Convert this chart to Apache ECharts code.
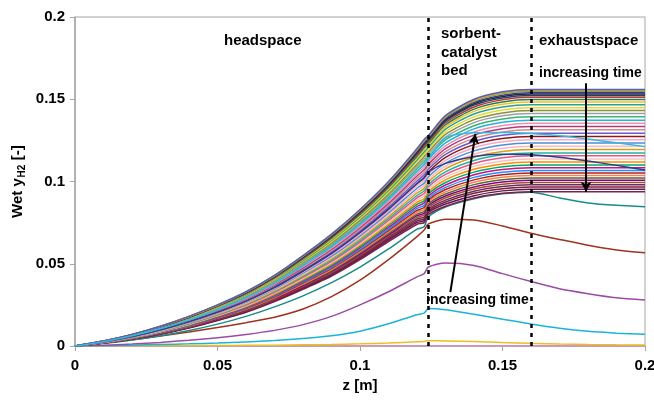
<!DOCTYPE html>
<html>
<head>
<meta charset="utf-8">
<script src="https://cdn.jsdelivr.net/npm/echarts@6/dist/echarts.min.js"></script>
<style>html,body{margin:0;padding:0;background:#fff}#c{width:654px;height:402px}</style>
</head>
<body>
<div id="c"></div>
<script>
// ---- data ----
const xTicks = [0, 0.05, 0.1, 0.15, 0.2];
const yTicks = [0, 0.05, 0.1, 0.15, 0.2];
const bedStart = 0.124;
const bedEnd = 0.16;

// z grid of the dense band of profiles
const zBand = [0,0.01,0.02,0.03,0.04,0.05,0.06,0.07,0.08,0.09,0.1,0.11,0.12,0.1225,0.124,0.13,0.14,0.15,0.16,0.2];
// z grid of the separately visible profiles
const zFine = [0,0.01,0.02,0.03,0.04,0.05,0.06,0.07,0.08,0.09,0.1,0.11,0.12,0.1225,0.124,0.13,0.14,0.15,0.16,0.17,0.18,0.19,0.2];

// band profiles, top to bottom
const b01 = [0,.0030,.0070,.0120,.0180,.0250,.0330,.0430,.0550,.0680,.0830,.1000,.1200,.1255,.1280,.1400,.1500,.1545,.1560,.1560];
const b02 = [0,.0030,.0070,.0120,.0179,.0249,.0329,.0428,.0548,.0678,.0827,.0996,.1195,.1250,.1275,.1395,.1494,.1539,.1554,.1554];
const b03 = [0,.0030,.0069,.0119,.0179,.0248,.0328,.0427,.0546,.0675,.0824,.0993,.1191,.1245,.1270,.1389,.1488,.1533,.1548,.1548];
const b04 = [0,.0030,.0069,.0119,.0178,.0247,.0326,.0425,.0543,.0672,.0820,.0988,.1185,.1239,.1265,.1382,.1481,.1525,.1540,.1540];
const b05 = [0,.0030,.0069,.0118,.0177,.0246,.0324,.0423,.0541,.0669,.0816,.0984,.1179,.1232,.1258,.1375,.1473,.1517,.1532,.1532];
const b06 = [0,.0029,.0068,.0117,.0176,.0244,.0323,.0420,.0538,.0665,.0812,.0978,.1172,.1225,.1251,.1367,.1464,.1508,.1523,.1523];
const b07 = [0,.0029,.0068,.0116,.0175,.0243,.0320,.0418,.0534,.0660,.0806,.0972,.1164,.1216,.1243,.1357,.1453,.1497,.1512,.1512];
const b08 = [0,.0029,.0067,.0115,.0173,.0241,.0318,.0414,.0530,.0655,.0800,.0964,.1154,.1205,.1232,.1345,.1440,.1483,.1498,.1498];
const b09 = [0,.0029,.0067,.0114,.0171,.0238,.0315,.0410,.0525,.0648,.0792,.0955,.1143,.1192,.1221,.1332,.1426,.1469,.1483,.1483];
const b10 = [0,.0028,.0066,.0113,.0170,.0236,.0311,.0406,.0519,.0642,.0784,.0945,.1131,.1179,.1208,.1318,.1410,.1453,.1467,.1467];
const b11 = [0,.0028,.0065,.0112,.0168,.0233,.0308,.0402,.0514,.0635,.0776,.0935,.1118,.1165,.1195,.1302,.1393,.1435,.1449,.1449];
const b12 = [0,.0028,.0064,.0110,.0166,.0230,.0304,.0397,.0508,.0627,.0767,.0924,.1105,.1151,.1181,.1286,.1376,.1417,.1431,.1431];
const b13 = [0,.0027,.0063,.0109,.0163,.0228,.0300,.0392,.0501,.0620,.0758,.0914,.1091,.1135,.1166,.1270,.1358,.1399,.1413,.1413];
const b14 = [0,.0027,.0063,.0107,.0161,.0225,.0297,.0387,.0495,.0612,.0748,.0902,.1077,.1120,.1151,.1253,.1339,.1380,.1393,.1393];
const b15 = [0,.0026,.0062,.0106,.0159,.0222,.0293,.0382,.0489,.0604,.0739,.0891,.1062,.1104,.1136,.1235,.1320,.1360,.1373,.1373];
const b16 = [0,.0026,.0061,.0104,.0157,.0219,.0289,.0377,.0482,.0595,.0729,.0879,.1047,.1087,.1121,.1217,.1301,.1340,.1354,.1354];
const b17 = [0,.0026,.0060,.0103,.0155,.0215,.0285,.0372,.0475,.0587,.0719,.0867,.1033,.1071,.1105,.1200,.1282,.1320,.1334,.1334];
const b18 = [0,.0025,.0059,.0101,.0152,.0212,.0281,.0367,.0469,.0579,.0709,.0856,.1018,.1055,.1090,.1182,.1262,.1301,.1314,.1314];
const b19 = [0,.0025,.0058,.0100,.0150,.0209,.0277,.0362,.0462,.0571,.0700,.0844,.1003,.1039,.1075,.1165,.1243,.1281,.1294,.1294];
const b20 = [0,.0025,.0057,.0098,.0148,.0206,.0273,.0356,.0456,.0563,.0690,.0832,.0988,.1023,.1059,.1147,.1224,.1261,.1274,.1274];
const b21 = [0,.0024,.0056,.0096,.0146,.0203,.0269,.0351,.0449,.0555,.0680,.0820,.0974,.1007,.1044,.1129,.1205,.1241,.1254,.1254];
const b22 = [0,.0024,.0055,.0095,.0143,.0200,.0265,.0346,.0443,.0546,.0670,.0809,.0959,.0990,.1029,.1112,.1186,.1222,.1234,.1234];
const b23 = [0,.0023,.0054,.0093,.0141,.0197,.0261,.0341,.0436,.0538,.0660,.0797,.0944,.0974,.1013,.1094,.1166,.1202,.1214,.1214];
const b24 = [0,.0023,.0054,.0092,.0139,.0194,.0257,.0336,.0430,.0530,.0651,.0785,.0930,.0958,.0998,.1077,.1147,.1182,.1194,.1194];
const b25 = [0,.0023,.0053,.0090,.0137,.0191,.0253,.0331,.0423,.0522,.0641,.0774,.0915,.0942,.0982,.1059,.1128,.1163,.1174,.1174];
const b26 = [0,.0022,.0052,.0089,.0135,.0188,.0249,.0326,.0417,.0514,.0632,.0763,.0901,.0927,.0968,.1043,.1110,.1144,.1156,.1156];
const b27 = [0,.0022,.0051,.0087,.0132,.0185,.0245,.0321,.0411,.0507,.0623,.0752,.0887,.0912,.0954,.1026,.1092,.1125,.1137,.1137];
const b28 = [0,.0022,.0050,.0086,.0130,.0183,.0241,.0316,.0405,.0499,.0614,.0741,.0873,.0897,.0939,.1010,.1074,.1107,.1118,.1118];
const b29 = [0,.0021,.0049,.0085,.0128,.0180,.0238,.0312,.0399,.0492,.0605,.0731,.0861,.0882,.0926,.0994,.1057,.1090,.1101,.1101];
const b30 = [0,.0021,.0049,.0083,.0127,.0177,.0234,.0308,.0393,.0485,.0597,.0721,.0848,.0869,.0913,.0979,.1041,.1073,.1084,.1084];
const b31 = [0,.0021,.0048,.0082,.0125,.0175,.0231,.0303,.0388,.0478,.0588,.0711,.0836,.0855,.0900,.0964,.1025,.1056,.1067,.1067];
const b32 = [0,.0020,.0047,.0081,.0123,.0172,.0228,.0299,.0383,.0472,.0581,.0702,.0824,.0842,.0888,.0951,.1010,.1041,.1052,.1052];
const b33 = [0,.0020,.0046,.0080,.0121,.0170,.0225,.0295,.0377,.0465,.0573,.0693,.0813,.0830,.0876,.0937,.0995,.1026,.1036,.1036];
const b34 = [0,.0020,.0046,.0079,.0120,.0168,.0222,.0292,.0373,.0459,.0566,.0684,.0802,.0818,.0865,.0924,.0981,.1011,.1022,.1022];
const b35 = [0,.0019,.0045,.0077,.0118,.0166,.0219,.0288,.0368,.0454,.0559,.0676,.0792,.0807,.0854,.0912,.0967,.0997,.1008,.1008];
const b36 = [0,.0019,.0045,.0076,.0116,.0164,.0216,.0284,.0364,.0448,.0553,.0668,.0781,.0796,.0843,.0900,.0954,.0984,.0994,.0994];
const b37 = [0,.0019,.0044,.0075,.0115,.0162,.0214,.0281,.0359,.0442,.0546,.0660,.0771,.0784,.0833,.0887,.0941,.0970,.0980,.0980];
const b38 = [0,.0019,.0043,.0074,.0113,.0159,.0211,.0277,.0354,.0437,.0539,.0652,.0761,.0773,.0822,.0875,.0928,.0956,.0967,.0967];
const b39 = [0,.0018,.0043,.0073,.0112,.0157,.0208,.0274,.0350,.0431,.0532,.0644,.0751,.0762,.0812,.0863,.0914,.0943,.0953,.0953];
const b40 = [0,.0018,.0042,.0072,.0110,.0155,.0205,.0270,.0345,.0425,.0525,.0635,.0740,.0750,.0800,.0850,.0900,.0928,.0938,.0938];

// separately visible profiles (on zFine)
const cyanCross = [0,.0026,.0062,.0106,.0159,.0222,.0293,.0382,.0489,.0604,.0739,.0891,.1062,.1104,.1136,.1265,.1296,.1298,.1292,.1278,.1258,.1235,.1212];
const navyCross = [0,.0025,.0057,.0098,.0148,.0206,.0273,.0356,.0456,.0563,.0690,.0832,.0988,.1023,.1059,.1110,.1152,.1165,.1162,.1148,.1125,.1098,.1070];
const tealLow   = [0,.0015,.0036,.0062,.0094,.0133,.0180,.0238,.0305,.0385,.0480,.0590,.0710,.0725,.0785,.0845,.0895,.0925,.0935,.0900,.0870,.0855,.0847];
const brownLow  = [0,.0018,.0038,.0060,.0085,.0112,.0142,.0175,.0225,.0300,.0400,.0525,.0665,.0705,.0742,.0770,.0766,.0730,.0686,.0648,.0612,.0584,.0567];
const purpleLow = [0,.0005,.0012,.0022,.0035,.0050,.0070,.0095,.0130,.0180,.0250,.0330,.0420,.0440,.0480,.0505,.0490,.0440,.0392,.0348,.0318,.0293,.0280];
const cyanLow   = [0,.0002,.0005,.0009,.0013,.0018,.0025,.0033,.0045,.0062,.0090,.0135,.0190,.0200,.0228,.0220,.0193,.0163,.0134,.0108,.0089,.0078,.0071];
const yellowLow = [0,.0001,.0001,.0002,.0002,.0003,.0004,.0005,.0007,.0009,.0013,.0018,.0026,.0028,.0032,.0031,.0027,.0021,.0016,.0012,.0009,.0007,.0006];
const pinkZero  = [0,0,0,0,0,0,0,0,0,0,0,0,0,0,0,0,0,0,0,0,0,0,0];

// arrows (data coordinates)
const arrowDown = [[0.1793, 0.1598], [0.1793, 0.0937]];
const arrowUp   = [[0.1317, 0.0328], [0.1405, 0.1290]];

// ---- styles ----
const bandColors = ['#5560b0','#e89a3c','#7aa84a','#3a3a8a','#2b2b2b','#1f3f7f','#c0392b','#2e7d4f','#f0c419','#2aa198',
  '#e0dc30','#8a8f3a','#9aa0a6','#3cb371','#1fb5d8','#f28db2','#b03a7a','#d48a8a','#6a5acd','#8b1a1a',
  '#f7a8c8','#4a90d9','#ffb6c1','#d4a017','#20b2aa','#e75480','#f4c2c2','#ff8c00','#00a86b','#c71585',
  '#1e90ff','#b22222','#ff7f50','#556b2f','#8b008b','#a0522d','#6b2d5c','#7b1e3a','#5e1a4f','#80204a'];
const bandRows = [b01,b02,b03,b04,b05,b06,b07,b08,b09,b10,b11,b12,b13,b14,b15,b16,b17,b18,b19,b20,
  b21,b22,b23,b24,b25,b26,b27,b28,b29,b30,b31,b32,b33,b34,b35,b36,b37,b38,b39,b40];

const FONT = 'Arial, "Liberation Sans", sans-serif';
function pairs(zs, ys) { return zs.map((z, i) => [z, ys[i]]); }
function lineSeries(zs, ys, color, z) {
  return { type: 'line', data: pairs(zs, ys), symbol: 'none', smooth: 0.25, silent: true,
    lineStyle: { color: color, width: 1.5 }, z: z || 2 };
}

const series = [];
series.push(Object.assign(lineSeries(zFine, pinkZero, '#d98cc0', 2), {
  markLine: {
    silent: true, symbol: 'none', precision: 6, label: { show: false }, animation: false,
    data: [
      { xAxis: bedStart, lineStyle: { color: '#000', width: 2.5, type: [4, 5] } },
      { xAxis: bedEnd, lineStyle: { color: '#000', width: 2.5, type: [4, 5] } },
      [{ coord: arrowDown[0], symbol: 'none', lineStyle: { color: '#000', width: 2, type: 'solid' } },
       { coord: arrowDown[1], symbol: 'arrow', symbolSize: [8, 10] }],
      [{ coord: arrowUp[0], symbol: 'none', lineStyle: { color: '#000', width: 2, type: 'solid' } },
       { coord: arrowUp[1], symbol: 'arrow', symbolSize: [8, 10] }]
    ]
  }
}));
series.push(lineSeries(zFine, yellowLow, '#e8c020'));
series.push(lineSeries(zFine, cyanLow, '#1cb4d6'));
series.push(lineSeries(zFine, purpleLow, '#9c4aa6'));
series.push(lineSeries(zFine, brownLow, '#a0321e'));
series.push(lineSeries(zFine, tealLow, '#1a8a8a'));
for (let i = bandRows.length - 1; i >= 0; i--) {
  series.push(lineSeries(zBand, bandRows[i], bandColors[i]));
}
series.push(lineSeries(zFine, navyCross, '#2b3f8f', 3));
series.push(lineSeries(zFine, cyanCross, '#36b9e0', 3));

const labelStyle = { color: '#000', fontFamily: FONT, fontWeight: 'bold', fontSize: 15 };
function txt(x, y, text, size) {
  return { type: 'text', x: x, y: y, silent: true, z: 100,
    style: { text: text, fill: '#000', font: 'bold ' + (size || 15) + 'px ' + FONT, verticalAlign: 'middle' } };
}

const option = {
  animation: false,
  backgroundColor: '#fff',
  grid: { left: 75, right: 9, top: 17, bottom: 56, containLabel: false, outerBoundsMode: 'none',
    show: true, borderColor: '#a6a6a6', borderWidth: 1 },
  xAxis: {
    type: 'value', min: xTicks[0], max: xTicks[xTicks.length - 1], interval: 0.05,
    name: 'z [m]', nameLocation: 'middle', nameGap: 31,
    nameTextStyle: labelStyle,
    axisLine: { lineStyle: { color: '#a6a6a6', width: 1.5 } },
    axisTick: { show: true, inside: false, length: 5, lineStyle: { color: '#a6a6a6' } },
    splitLine: { show: false },
    axisLabel: Object.assign({ margin: 12 }, labelStyle)
  },
  yAxis: {
    type: 'value', min: yTicks[0], max: yTicks[yTicks.length - 1], interval: 0.05,
    axisLine: { show: true, lineStyle: { color: '#a6a6a6', width: 1.5 } },
    axisTick: { show: true, inside: false, length: 5, lineStyle: { color: '#a6a6a6' } },
    splitLine: { show: false },
    axisLabel: Object.assign({ margin: 10 }, labelStyle)
  },
  graphic: [
    txt(224, 41, 'headspace'),
    txt(441, 34, 'sorbent-'),
    txt(441, 52.5, 'catalyst'),
    txt(441, 71, 'bed'),
    txt(539, 41, 'exhaustspace'),
    txt(539, 73, 'increasing time', 14),
    txt(426, 300, 'increasing time', 14),
    { type: 'group', x: 18, y: 182, rotation: Math.PI / 2, silent: true,
      children: [
        { type: 'text', x: -36, y: 0, style: { text: 'Wet y', fill: '#000', font: 'bold 15px ' + FONT, verticalAlign: 'middle' } },
        { type: 'text', x: 4.5, y: 4, style: { text: 'H2', fill: '#000', font: 'bold 10px ' + FONT, verticalAlign: 'middle' } },
        { type: 'text', x: 17.5, y: 0, style: { text: ' [-]', fill: '#000', font: 'bold 15px ' + FONT, verticalAlign: 'middle' } }
      ] }
  ],
  series: series
};

const chart = echarts.init(document.getElementById('c'), null, { renderer: 'canvas' });
chart.setOption(option);
</script>
</body>
</html>
